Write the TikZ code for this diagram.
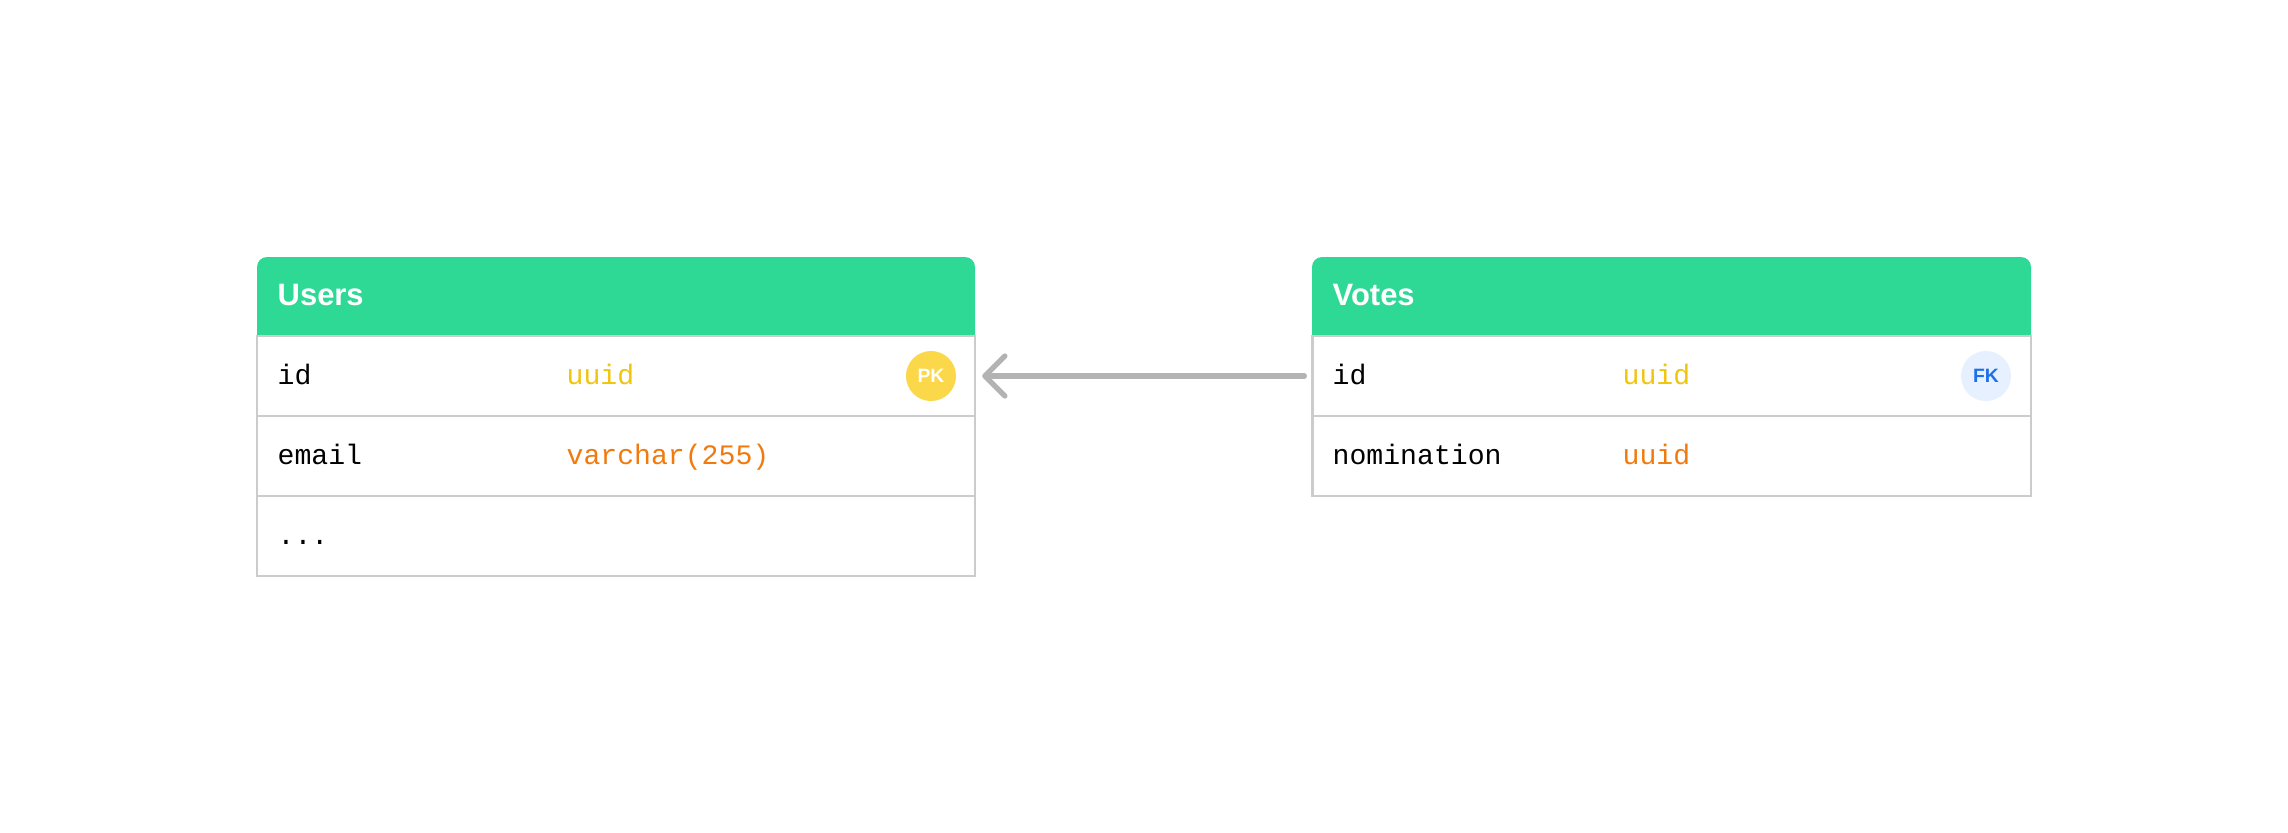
\documentclass[tikz,border=0pt]{standalone}
\usepackage{fontspec}
\setmainfont{Liberation Sans}
\setmonofont{Liberation Mono}
\usetikzlibrary{arrows.meta}
\definecolor{headgreen}{HTML}{2ED996}
\definecolor{rulegray}{HTML}{CCCCCC}
\definecolor{arrowgray}{HTML}{B3B3B3}
\definecolor{typeyellow}{HTML}{F2C40C}
\definecolor{typeorange}{HTML}{F27A0C}
\definecolor{pkyellow}{HTML}{FAD84A}
\definecolor{fkblue}{HTML}{E6F0FF}
\definecolor{fktext}{HTML}{1D6FF2}

\begin{document}
\begin{tikzpicture}[
	x=0.01cm, y=-0.01cm,
	tabrow/.style={draw=rulegray, fill=white, line width=0.7pt, minimum width=7.18cm, minimum height=0.8cm, inner sep=0pt, outer sep=0pt},
	tabtitle/.style={anchor=base west, inner sep=0pt, text=white, font=\fontsize{8.8}{10}\selectfont\bfseries},
	field/.style={anchor=base west, inner sep=0pt, font=\fontsize{8}{10}\selectfont\ttfamily},
	badge/.style={circle, minimum size=0.5cm, inner sep=0pt, font=\fontsize{5.5}{6}\selectfont\bfseries},
	>={Straight Barb[length=2mm, width=4mm, round]}
	]
	\useasboundingbox (0,0) rectangle (2288,832);

	% Users table
	\fill[headgreen] (257,337) [rounded corners=0.1cm] -- (257,257) -- (975,257) [sharp corners] -- (975,337) -- cycle;
	\foreach \y/\n in {376/1, 456/2, 536/3}
		\node[tabrow] (users-r\n) at (616,\y) {};
	\node[tabtitle] (users) at (277,305) {Users};
	\node[field] (users-id) at (277,384) {id};
	\node[field, text=typeyellow] (users-id-type) at (566,384) {uuid};
	\node[badge, fill=pkyellow, text=white] (users-pk) at (931,376) {PK};
	\node[field] (users-email) at (277,464) {email};
	\node[field, text=typeorange] (users-email-type) at (566,464) {varchar(255)};
	\node[field] (users-more) at (277,544) {...};

	% Votes table
	\fill[headgreen] (1312,337) [rounded corners=0.1cm] -- (1312,257) -- (2031,257) [sharp corners] -- (2031,337) -- cycle;
	\foreach \y/\n in {376/1, 456/2}
		\node[tabrow] (votes-r\n) at (1671.5,\y) {};
	\node[tabtitle] (votes) at (1332,305) {Votes};
	\node[field] (votes-id) at (1332,384) {id};
	\node[field, text=typeyellow] (votes-id-type) at (1622,384) {uuid};
	\node[badge, fill=fkblue, text=fktext] (votes-fk) at (1986,376) {FK};
	\node[field] (votes-nomination) at (1332,464) {nomination};
	\node[field, text=typeorange] (votes-nomination-type) at (1622,464) {uuid};

	% reference
	\draw[->, arrowgray, line width=1.5pt, line cap=round, shorten <=0.08cm, shorten >=0.07cm] (votes-r1.west) -- (users-r1.east);
\end{tikzpicture}
\end{document}
